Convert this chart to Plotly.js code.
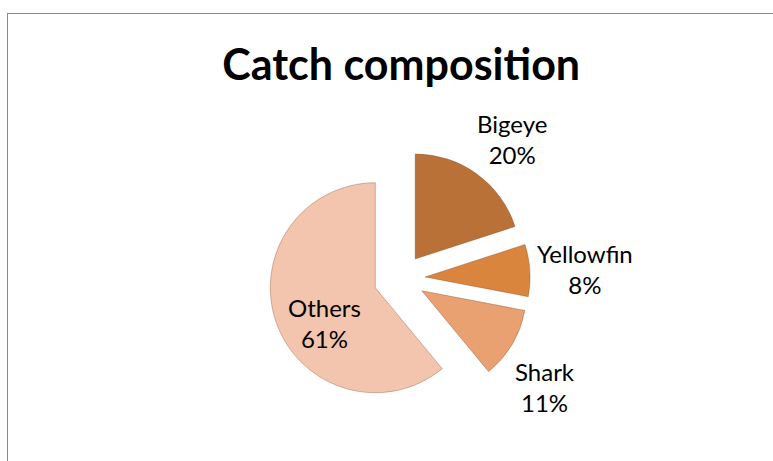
<!DOCTYPE html>
<html>
<head>
<meta charset="utf-8">
<script src="https://cdn.plot.ly/plotly-3.0.1.min.js"></script>
<style>
html,body{margin:0;padding:0;background:#fff;}
#wrap{position:relative;width:773px;height:461px;overflow:hidden;}
#chart{position:absolute;left:0;top:0;width:773px;height:461px;}
#frame{position:absolute;left:7px;top:13px;width:800px;height:500px;border-left:1.5px solid #8a8a8a;border-top:1.5px solid #8a8a8a;pointer-events:none;}
</style>
</head>
<body>
<div id="wrap"><div id="chart"></div><div id="frame"></div></div>
<script>
const categories = ['Bigeye', 'Yellowfin', 'Shark', 'Others'];
const values = [20, 8, 11, 61];
const colors = ['#b97137', '#da853d', '#eaa172', '#f3c5ae'];
const pulls = [0.23, 0.23, 0.23, 0.26];
const chartTitle = 'Catch composition';

// label placement (paper coordinates), layout only
const labelX = [0.6624, 0.7568, 0.7050, 0.4204];
const labelY = [0.6985, 0.4165, 0.1605, 0.3004];

const fontFam = 'Lato, "Open Sans", sans-serif';
const total = values.reduce((a, b) => a + b, 0);

const trace = {
  type: 'pie',
  labels: categories,
  values: values,
  sort: false,
  direction: 'clockwise',
  rotation: 0,
  pull: pulls,
  marker: {colors: colors, line: {color: 'rgba(120,70,40,0.35)', width: 1}},
  textinfo: 'none',
  showlegend: false,
  hoverinfo: 'label+percent',
  domain: {x: [0.3476, 0.6899], y: [0.1089, 0.6829]}
};

const annotations = categories.map((c, i) => ({
  xref: 'paper', yref: 'paper',
  x: labelX[i], y: labelY[i],
  xanchor: 'center', yanchor: 'middle',
  showarrow: false,
  align: 'center',
  text: c + '<br>' + Math.round(values[i] / total * 100) + '%',
  font: {family: fontFam, size: 24, color: '#000'}
}));

const layout = {
  width: 773, height: 461,
  margin: {l: 0, r: 0, t: 0, b: 0},
  paper_bgcolor: '#ffffff',
  title: {
    text: '<b>' + chartTitle + '</b>',
    font: {family: fontFam, size: 43, color: '#000'},
    x: 0.519, xanchor: 'center',
    y: 0.86, yanchor: 'middle'
  },
  annotations: annotations,
  showlegend: false
};

Plotly.newPlot('chart', [trace], layout, {displayModeBar: false, staticPlot: true});
</script>
</body>
</html>
